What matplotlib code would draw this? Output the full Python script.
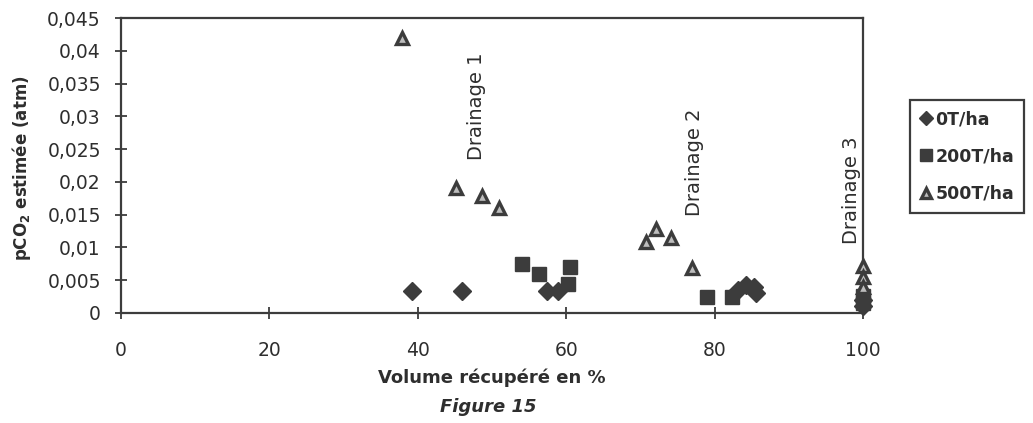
import matplotlib
matplotlib.use("Agg")
import matplotlib.pyplot as plt
from matplotlib.ticker import FixedLocator

# ---- data ----
x_0t = [39.2, 45.9, 57.4, 58.9, 83.2, 84.2, 85.3, 85.6, 100, 100]
y_0t = [0.0034, 0.0033, 0.0034, 0.0034, 0.0035, 0.0042, 0.0039, 0.0030, 0.0010, 0.0020]

x_200t = [54.0, 56.4, 60.3, 60.5, 79.0, 82.3, 100, 100]
y_200t = [0.0075, 0.0060, 0.0044, 0.0070, 0.0024, 0.0025, 0.0015, 0.0026]

x_500t = [37.9, 45.1, 48.7, 51.0, 70.7, 72.1, 74.1, 77.0, 100, 100, 100]
y_500t = [0.0420, 0.0190, 0.0178, 0.0160, 0.0108, 0.0128, 0.0115, 0.0068, 0.0072, 0.0055, 0.0039]

series_labels = ["0T/ha", "200T/ha", "500T/ha"]
x_ticks = [0, 20, 40, 60, 80, 100]
y_ticks = [0, 0.005, 0.01, 0.015, 0.02, 0.025, 0.03, 0.035, 0.04, 0.045]
y_tick_labels = ["0", "0,005", "0,01", "0,015", "0,02", "0,025", "0,03", "0,035", "0,04", "0,045"]
drainage_labels = ["Drainage 1", "Drainage 2", "Drainage 3"]
drainage_x = [47.9, 77.3, 98.4]
drainage_y = [0.0315, 0.0230, 0.0188]

# ---- style ----
ink = "#3c3c3c"
txt = "#2e2e2e"
plt.rcParams["font.family"] = ["DejaVu Sans"]

fig = plt.figure(figsize=(10.33, 4.23), dpi=100)
ax = fig.add_axes([121/1033, 1-313/423, (863-121)/1033, (313-18)/423])

ax.plot(x_0t, y_0t, linestyle="none", marker="D", markersize=9,
        color=ink, markeredgecolor=ink, label=series_labels[0], clip_on=False, zorder=3)
ax.plot(x_200t, y_200t, linestyle="none", marker="s", markersize=10,
        color=ink, markeredgecolor=ink, label=series_labels[1], clip_on=False, zorder=3)
ax.plot(x_500t, y_500t, linestyle="none", marker="^", markersize=9,
        markerfacecolor="#bdbdbd", markeredgecolor=ink, markeredgewidth=2.4,
        label=series_labels[2], clip_on=False, zorder=4)

ax.set_xlim(0, 100)
ax.set_ylim(0, 0.045)
ax.xaxis.set_major_locator(FixedLocator(x_ticks))
ax.yaxis.set_major_locator(FixedLocator(y_ticks))
ax.set_xticklabels([str(v) for v in x_ticks])
ax.set_yticklabels(y_tick_labels)
ax.tick_params(axis="both", direction="inout", length=9, width=1.3, color=ink,
               labelsize=13.5, labelcolor=txt)
ax.tick_params(axis="x", pad=16)
ax.tick_params(axis="y", pad=10)
for sp in ax.spines.values():
    sp.set_color(ink)
    sp.set_linewidth(1.6)

ax.set_xlabel("Volume récupéré en %", fontsize=13, fontweight="bold", color=txt, labelpad=6)
fig.text(22/1033, 1-168/423, r"pCO$_\mathbf{2}$ estimée (atm)", rotation=90,
         ha="center", va="center", fontsize=12, fontweight="bold", color=txt)
fig.text(488/1033, 1-407/423, "Figure 15", ha="center", va="center",
         fontsize=13, fontweight="bold", style="italic", color=txt)

for lab, dx, dy in zip(drainage_labels, drainage_x, drainage_y):
    ax.text(dx, dy, lab, rotation=90, ha="center", va="center",
            fontsize=14, color=txt, zorder=5)

leg = fig.legend(loc="upper left", bbox_to_anchor=(910/1033, 1-100/423),
                 frameon=True, fancybox=False, framealpha=1, edgecolor=ink,
                 prop={"size": 12.5, "weight": "bold"}, handlelength=0.6,
                 handletextpad=0.25, labelspacing=1.1, borderpad=0.6,
                 borderaxespad=0, markerscale=0.8)
leg.get_frame().set_linewidth(1.6)
for t in leg.get_texts():
    t.set_color(txt)

fig.savefig("out.png", dpi=100)
